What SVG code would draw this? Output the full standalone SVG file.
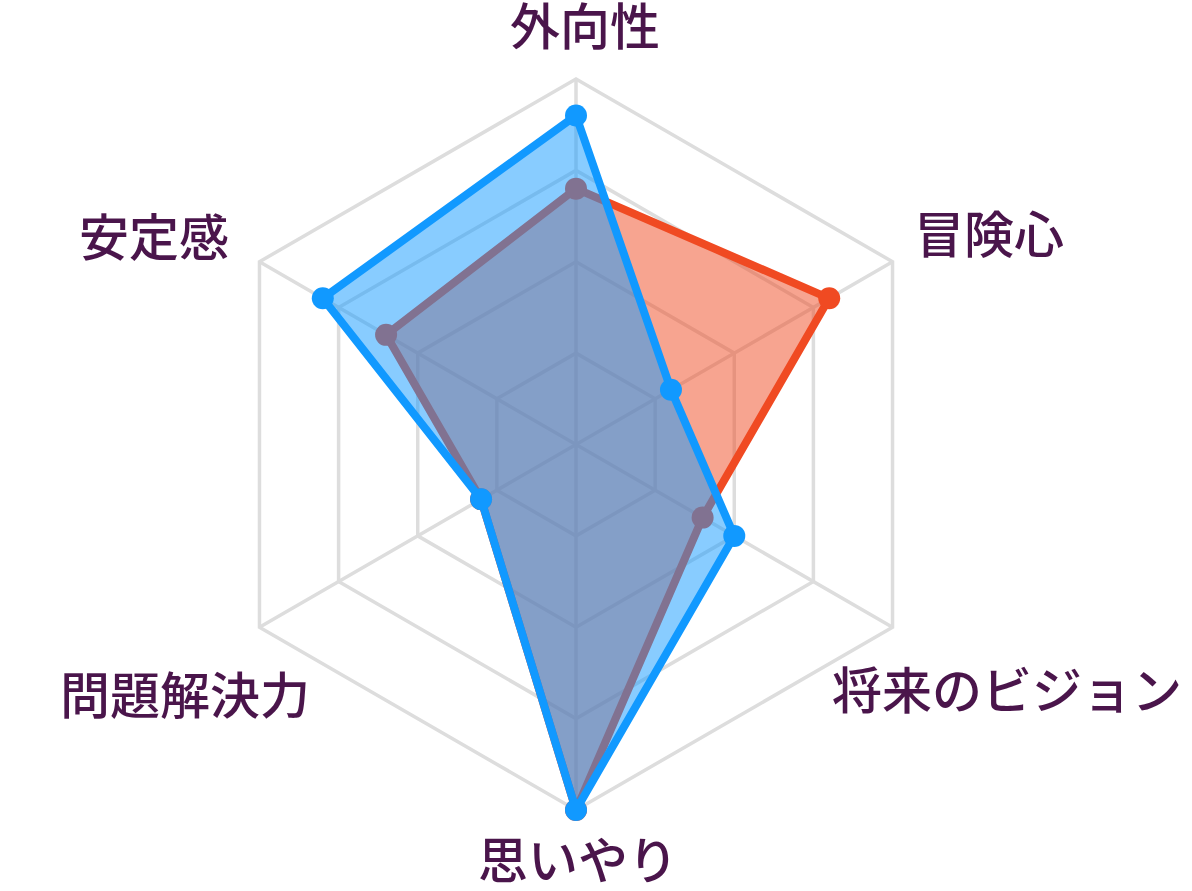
<svg xmlns="http://www.w3.org/2000/svg" width="1192" height="891" viewBox="0 0 1192 891">
<style>
.grid{fill:none;stroke:#dddddd;stroke-width:3.5;stroke-linejoin:miter}
.lbl{font-family:"Noto Sans CJK JP","Noto Sans CJK SC",sans-serif;font-size:50px;font-weight:500;fill:#4a154b}
.orange-area{fill:#f04a22;fill-opacity:0.5;stroke:#f04a22;stroke-width:8;stroke-linejoin:round}
.orange-pt{fill:#f04a22}
.blue-area{fill:#1199ff;fill-opacity:0.5;stroke:#1199ff;stroke-width:8;stroke-linejoin:round}
.blue-pt{fill:#1199ff}
</style>
<rect width="1192" height="891" fill="#ffffff"/>
<g id="grid">
<polygon class="grid" points="576,353.13 655.13,398.81 655.13,490.19 576,535.88 496.87,490.19 496.87,398.81"/>
<polygon class="grid" points="576,261.75 734.27,353.13 734.27,535.88 576,627.25 417.73,535.88 417.73,353.13"/>
<polygon class="grid" points="576,170.38 813.4,307.44 813.4,581.56 576,718.63 338.6,581.56 338.6,307.44"/>
<polygon class="grid" points="576,79 892.53,261.75 892.53,627.25 576,810 259.47,627.25 259.47,261.75"/>
<path class="grid" d="M576,444.5L576,79M576,444.5L892.53,261.75M576,444.5L892.53,627.25M576,444.5L576,810M576,444.5L259.47,627.25M576,444.5L259.47,261.75"/>
</g>
<g id="series-orange">
<polygon class="orange-area" points="576,188.65 829.22,298.3 702.61,517.6 576,810 481.04,499.33 386.08,334.85"/>
<circle class="orange-pt" cx="576" cy="188.65" r="11"/>
<circle class="orange-pt" cx="829.22" cy="298.3" r="11"/>
<circle class="orange-pt" cx="702.61" cy="517.6" r="11"/>
<circle class="orange-pt" cx="576" cy="810" r="11"/>
<circle class="orange-pt" cx="481.04" cy="499.33" r="11"/>
<circle class="orange-pt" cx="386.08" cy="334.85" r="11"/>
</g>
<g id="series-blue">
<polygon class="blue-area" points="576,115.55 670.96,389.67 734.27,535.88 576,810 481.04,499.33 322.78,298.3"/>
<circle class="blue-pt" cx="576" cy="115.55" r="11"/>
<circle class="blue-pt" cx="670.96" cy="389.67" r="11"/>
<circle class="blue-pt" cx="734.27" cy="535.88" r="11"/>
<circle class="blue-pt" cx="576" cy="810" r="11"/>
<circle class="blue-pt" cx="481.04" cy="499.33" r="11"/>
<circle class="blue-pt" cx="322.78" cy="298.3" r="11"/>
</g>
<g id="labels">
<text id="label-gaikousei" class="lbl" x="585" y="45" text-anchor="middle">外向性</text>
<text id="label-boukenshin" class="lbl" x="914" y="253" text-anchor="start">冒険心</text>
<text id="label-shourai" class="lbl" x="832" y="709" text-anchor="start">将来のビジョン</text>
<text id="label-omoiyari" class="lbl" x="578" y="879" text-anchor="middle">思いやり</text>
<text id="label-mondai" class="lbl" x="310" y="714" text-anchor="end">問題解決力</text>
<text id="label-anteikan" class="lbl" x="229" y="256" text-anchor="end">安定感</text>
</g>
</svg>
